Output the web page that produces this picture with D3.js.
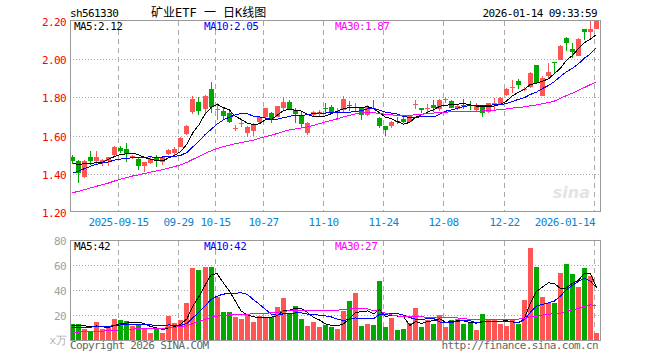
<!DOCTYPE html>
<html>
<head>
<meta charset="utf-8">
<script src="https://cdn.jsdelivr.net/npm/d3@7"></script>
<style>
  body { margin: 0; background: #fff; }
  text { font-family: "DejaVu Sans Mono", monospace; font-size: 11px; letter-spacing: -0.6px; }
</style>
</head>
<body>
<div id="chart"></div>
<script>
// Trading days shown on the chart
const dates = [
  "2025-09-03","2025-09-04","2025-09-05","2025-09-08","2025-09-09","2025-09-10","2025-09-11","2025-09-12",
  "2025-09-15","2025-09-16","2025-09-17","2025-09-18","2025-09-19","2025-09-22","2025-09-23","2025-09-24",
  "2025-09-25","2025-09-26","2025-09-29","2025-09-30","2025-10-09","2025-10-10","2025-10-13","2025-10-14",
  "2025-10-15","2025-10-16","2025-10-17","2025-10-20","2025-10-21","2025-10-22","2025-10-23","2025-10-24",
  "2025-10-27","2025-10-28","2025-10-29","2025-10-30","2025-10-31","2025-11-03","2025-11-04","2025-11-05",
  "2025-11-06","2025-11-07","2025-11-10","2025-11-11","2025-11-12","2025-11-13","2025-11-14","2025-11-17",
  "2025-11-18","2025-11-19","2025-11-20","2025-11-21","2025-11-24","2025-11-25","2025-11-26","2025-11-27",
  "2025-11-28","2025-12-01","2025-12-02","2025-12-03","2025-12-04","2025-12-05","2025-12-08","2025-12-09",
  "2025-12-10","2025-12-11","2025-12-12","2025-12-15","2025-12-16","2025-12-17","2025-12-18","2025-12-19",
  "2025-12-22","2025-12-23","2025-12-24","2025-12-25","2025-12-26","2025-12-29","2025-12-30","2025-12-31",
  "2026-01-05","2026-01-06","2026-01-07","2026-01-08","2026-01-09","2026-01-12","2026-01-13","2026-01-14"
];

const open = [
  1.486,1.466,1.384,1.486,1.468,1.463,1.468,1.498,1.533,1.529,1.485,1.477,1.440,1.454,1.486,1.463,
  1.503,1.510,1.541,1.608,1.725,1.777,1.737,1.841,1.737,1.728,1.719,1.636,1.665,1.615,1.623,1.672,
  1.695,1.719,1.698,1.742,1.777,1.733,1.702,1.615,1.707,1.716,1.742,1.751,1.725,1.733,1.760,1.742,
  1.742,1.707,1.745,1.690,1.651,1.649,1.677,1.686,1.672,1.761,1.745,1.740,1.760,1.737,1.790,1.782,
  1.738,1.762,1.758,1.733,1.751,1.725,1.765,1.765,1.812,1.850,1.886,1.840,1.853,1.970,1.807,1.909,
  1.983,1.996,2.110,2.054,2.018,2.160,2.140,2.160
];
const high = [
  1.500,1.470,1.470,1.520,1.520,1.478,1.490,1.545,1.545,1.559,1.498,1.480,1.463,1.485,1.497,1.486,
  1.528,1.541,1.590,1.655,1.808,1.800,1.812,1.880,1.772,1.742,1.737,1.655,1.681,1.650,1.667,1.702,
  1.745,1.725,1.756,1.800,1.786,1.742,1.725,1.672,1.730,1.733,1.768,1.760,1.742,1.807,1.782,1.768,
  1.747,1.760,1.786,1.698,1.651,1.676,1.695,1.698,1.707,1.786,1.745,1.763,1.786,1.789,1.800,1.786,
  1.762,1.790,1.782,1.768,1.755,1.772,1.795,1.800,1.848,1.891,1.897,1.852,1.930,1.970,1.909,1.980,
  1.983,2.072,2.114,2.084,2.110,2.160,2.207,2.202
];
const low = [
  1.450,1.352,1.380,1.445,1.450,1.440,1.440,1.490,1.506,1.463,1.475,1.420,1.410,1.450,1.437,1.445,
  1.498,1.498,1.538,1.603,1.712,1.707,1.707,1.716,1.681,1.681,1.663,1.623,1.646,1.594,1.597,1.663,
  1.690,1.663,1.695,1.733,1.733,1.663,1.637,1.602,1.698,1.698,1.716,1.712,1.681,1.725,1.730,1.730,
  1.681,1.702,1.737,1.637,1.597,1.637,1.660,1.663,1.669,1.738,1.716,1.719,1.725,1.730,1.768,1.742,
  1.733,1.737,1.733,1.730,1.695,1.720,1.733,1.760,1.807,1.825,1.844,1.835,1.847,1.873,1.805,1.900,
  1.926,1.993,2.045,2.005,2.014,2.098,2.110,2.160
];
const close = [
  1.468,1.402,1.466,1.468,1.486,1.472,1.486,1.538,1.520,1.503,1.494,1.440,1.463,1.477,1.468,1.486,
  1.524,1.527,1.585,1.651,1.789,1.730,1.808,1.751,1.740,1.704,1.672,1.639,1.668,1.646,1.655,1.698,
  1.742,1.681,1.754,1.777,1.737,1.712,1.658,1.667,1.725,1.725,1.737,1.719,1.730,1.791,1.754,1.751,
  1.707,1.751,1.737,1.651,1.629,1.672,1.672,1.672,1.702,1.763,1.733,1.742,1.742,1.786,1.791,1.745,
  1.757,1.757,1.755,1.760,1.716,1.769,1.770,1.798,1.844,1.853,1.865,1.846,1.926,1.877,1.903,1.930,
  1.980,2.067,2.084,2.035,2.107,2.140,2.160,2.198
];
// Volume in 万
const volume = [
  13.2,13.2,9.5,7.6,14.8,9.5,11.0,17.2,16.4,15.6,11.6,12.9,9.7,6.0,9.5,6.0,
  19.9,14.0,16.4,30.3,58.3,56.4,59.0,59.0,34.8,23.1,23.1,19.1,17.5,20.4,15.1,19.6,
  18.5,19.1,27.1,34.0,21.7,27.6,17.2,11.6,14.8,10.8,12.4,10.8,9.2,23.6,31.6,38.3,
  11.6,13.2,12.4,47.6,10.8,18.3,8.4,9.2,13.7,26.0,10.8,16.4,13.2,20.4,10.8,16.4,
  17.5,13.2,14.0,8.4,21.2,17.2,16.4,13.2,11.6,16.4,13.2,32.4,74.3,58.8,34.8,30.3,
  30.3,53.7,61.2,53.0,43.0,58.0,52.0,6.0
];

// Sessions before the first candle, only used to start the moving averages
const preClose = [
  1.20,1.19,1.21,1.22,1.21,1.23,1.22,1.24,1.25,1.24,1.26,1.25,1.27,1.28,1.27,1.29,1.28,1.30,1.29,1.30,
  1.30,1.32,1.35,1.38,1.405,1.43,1.44,1.47,1.46
];
const preVolume = [
  4,5,4,5,4,5,5,4,5,5,4,5,5,5,4,5,5,5,5,5,
  7,8,9,8,8.5,11,12,11.5,11.8
];

// Axis ticks and header values
const tickDates = ["2025-09-15","2025-09-29","2025-10-15","2025-10-27","2025-11-10","2025-11-24","2025-12-08","2025-12-22","2026-01-14"];
const tickLabels = ["2025-09-15","09-29","10-15","10-27","11-10","11-24","12-08","12-22","2026-01-14"];
const priceTicks = [1.2, 1.4, 1.6, 1.8, 2.0, 2.2];
const volumeTicks = [20, 40, 60, 80];
const maPeriods = [5, 10, 30];
const priceMaLast = [2.12, 2.05, 1.87];
const volumeMaLast = [42, 42, 27];

const maColors = ["#000000", "#0000ff", "#ff00ff"];
const upColor = "#ff5555";
const downColor = "#00a800";
const gridColor = "#a8a8a8";

const svg = d3
  .select("#chart")
  .append("svg")
  .attr("width", 660)
  .attr("height", 360);

// Scales
const x = d3.scaleBand().domain(dates).range([69.5, 599.5]);
const cx = (d) => x(d) + x.bandwidth() / 2;
const y = d3.scaleLinear().domain([1.2, 2.2]).range([211.9, 20.9]);
const vy = d3.scaleLinear().domain([0, 80]).range([340.5, 240.5]);

const crisp = (v) => Math.round(v) + 0.5;

// Moving average over the pre-period plus shown days
function movingAverage(pre, values, n) {
  const all = pre.concat(values);
  return values.map((_, i) => d3.mean(all.slice(i + pre.length - n + 1, i + pre.length + 1)));
}

const candles = dates.map((d, i) => ({
  date: d,
  open: open[i],
  high: high[i],
  low: low[i],
  close: close[i],
  volume: volume[i],
  up: close[i] >= open[i],
}));

// Header
svg.append("text").attr("x", 70).attr("y", 17).text("sh561330");
svg
  .append("text")
  .attr("x", 151)
  .attr("y", 17)
  .style("font-family", "'DejaVu Sans Mono', 'Noto Sans CJK SC', monospace")
  .style("font-size", "12px")
  .style("letter-spacing", "0px")
  .text("矿业ETF 一 日K线图");
svg
  .append("text")
  .attr("x", 597)
  .attr("y", 17)
  .attr("text-anchor", "end")
  .text("2026-01-14 09:33:59");

// Grid lines, price panel
const grid = svg.append("g").attr("shape-rendering", "crispEdges");
grid
  .selectAll(".hgrid")
  .data(priceTicks.slice(1, -1))
  .join("line")
  .attr("x1", 70)
  .attr("x2", 600)
  .attr("y1", (d) => crisp(y(d)))
  .attr("y2", (d) => crisp(y(d)))
  .attr("stroke", gridColor)
  .attr("stroke-dasharray", "1,2");

grid
  .selectAll(".vhgrid")
  .data(volumeTicks.slice(0, -1))
  .join("line")
  .attr("x1", 70)
  .attr("x2", 600)
  .attr("y1", (d) => vy(d))
  .attr("y2", (d) => vy(d))
  .attr("stroke", gridColor)
  .attr("stroke-dasharray", "1,2");

const tickX = (d) => Math.floor(cx(d) - 2) + 0.5;
[[20.5, 211.5], [240.5, 340.5]].forEach(([y1, y2]) => {
  grid
    .append("g")
    .selectAll("line")
    .data(tickDates)
    .join("line")
    .attr("x1", tickX)
    .attr("x2", tickX)
    .attr("y1", y1)
    .attr("y2", y2)
    .attr("stroke", gridColor)
    .attr("stroke-dasharray", "5,4");
});

// Sina watermark
svg
  .append("text")
  .attr("x", 590)
  .attr("y", 198)
  .attr("text-anchor", "end")
  .style("font-family", "'DejaVu Sans', sans-serif")
  .style("font-style", "italic")
  .style("font-weight", "bold")
  .style("font-size", "16px")
  .style("letter-spacing", "0px")
  .attr("fill", "#e4e4e4")
  .text("sina");

// Clip for the price panel
svg
  .append("clipPath")
  .attr("id", "price-clip")
  .append("rect")
  .attr("x", 70)
  .attr("y", 20)
  .attr("width", 531)
  .attr("height", 192);

// Candles
const candleGroup = svg
  .append("g")
  .attr("clip-path", "url(#price-clip)")
  .attr("shape-rendering", "crispEdges");

const left = (d) => Math.round(cx(d.date) - 2.5);

candleGroup
  .selectAll(".wick")
  .data(candles)
  .join("line")
  .attr("x1", (d) => left(d) + 2.5)
  .attr("x2", (d) => left(d) + 2.5)
  .attr("y1", (d) => Math.round(y(d.high)))
  .attr("y2", (d) => Math.round(y(d.low)))
  .attr("stroke", (d) => (d.up ? upColor : downColor));

candleGroup
  .selectAll(".body")
  .data(candles)
  .join("rect")
  .attr("x", left)
  .attr("y", (d) => Math.round(y(Math.max(d.open, d.close))))
  .attr("width", 5)
  .attr("height", (d) =>
    Math.max(1, Math.round(y(Math.min(d.open, d.close))) - Math.round(y(Math.max(d.open, d.close))))
  )
  .attr("fill", (d) => (d.up ? upColor : downColor));

// Price moving averages
maPeriods.forEach((n, k) => {
  const ma = movingAverage(preClose, close, n);
  candleGroup
    .append("path")
    .datum(ma)
    .attr("fill", "none")
    .attr("stroke", maColors[k])
    .attr("stroke-width", 1)
    .attr(
      "d",
      d3
        .line()
        .x((d, i) => cx(dates[i]))
        .y((d) => y(d))
    );
});

// Volume bars
const volGroup = svg.append("g").attr("shape-rendering", "crispEdges");
volGroup
  .selectAll(".vol")
  .data(candles)
  .join("rect")
  .attr("x", left)
  .attr("y", (d) => Math.round(vy(d.volume)))
  .attr("width", 5)
  .attr("height", (d) => 340.5 - Math.round(vy(d.volume)))
  .attr("fill", (d) => (d.up ? upColor : downColor));

maPeriods.forEach((n, k) => {
  const ma = movingAverage(preVolume, volume, n);
  volGroup
    .append("path")
    .datum(ma)
    .attr("fill", "none")
    .attr("stroke", maColors[k])
    .attr("stroke-width", 1)
    .attr(
      "d",
      d3
        .line()
        .x((d, i) => cx(dates[i]))
        .y((d) => vy(d))
    );
});

// Panel frames
svg
  .append("g")
  .attr("shape-rendering", "crispEdges")
  .selectAll("rect")
  .data([[20.5, 211.5], [240.5, 340.5]])
  .join("rect")
  .attr("x", 70.5)
  .attr("y", (d) => d[0])
  .attr("width", 530)
  .attr("height", (d) => d[1] - d[0])
  .attr("fill", "none")
  .attr("stroke", "#999");

// Price axis labels
svg
  .selectAll(".plabel")
  .data(priceTicks)
  .join("text")
  .attr("x", 66)
  .attr("y", (d) => y(d) + 5)
  .attr("text-anchor", "end")
  .attr("fill", "#ff0000")
  .text((d) => d.toFixed(2));

// Volume axis labels
svg
  .selectAll(".vlabel")
  .data(volumeTicks)
  .join("text")
  .attr("x", 66)
  .attr("y", (d) => vy(d) + 4)
  .attr("text-anchor", "end")
  .attr("fill", "#a0a0a0")
  .text((d) => d);
svg
  .append("text")
  .attr("x", 66)
  .attr("y", 344)
  .attr("text-anchor", "end")
  .attr("fill", "#b0b0b0")
  .text("x万");

// Date labels
svg
  .selectAll(".xlabel")
  .data(tickDates)
  .join("text")
  .attr("x", (d, i) => (i === tickDates.length - 1 ? tickX(d) + 0.5 : tickX(d)))
  .attr("y", 226)
  .attr("text-anchor", (d, i) => (i === tickDates.length - 1 ? "end" : "middle"))
  .attr("fill", "#0a84d6")
  .text((d, i) => tickLabels[i]);

// Moving average legends
const legendX = [74, 204, 335];
maPeriods.forEach((n, k) => {
  svg
    .append("text")
    .attr("x", legendX[k])
    .attr("y", 30)
    .attr("fill", maColors[k])
    .text(`MA${n}:${priceMaLast[k].toFixed(2)}`);
  svg
    .append("text")
    .attr("x", legendX[k])
    .attr("y", 250)
    .attr("fill", maColors[k])
    .text(`MA${n}:${volumeMaLast[k]}`);
});

// Footer
svg
  .append("text")
  .attr("x", 70)
  .attr("y", 349)
  .attr("fill", "#666")
  .text("Copyright 2026 SINA.COM");
svg
  .append("text")
  .attr("x", 598)
  .attr("y", 349)
  .attr("text-anchor", "end")
  .attr("fill", "#666")
  .text("http://finance.sina.com.cn");
</script>
</body>
</html>
